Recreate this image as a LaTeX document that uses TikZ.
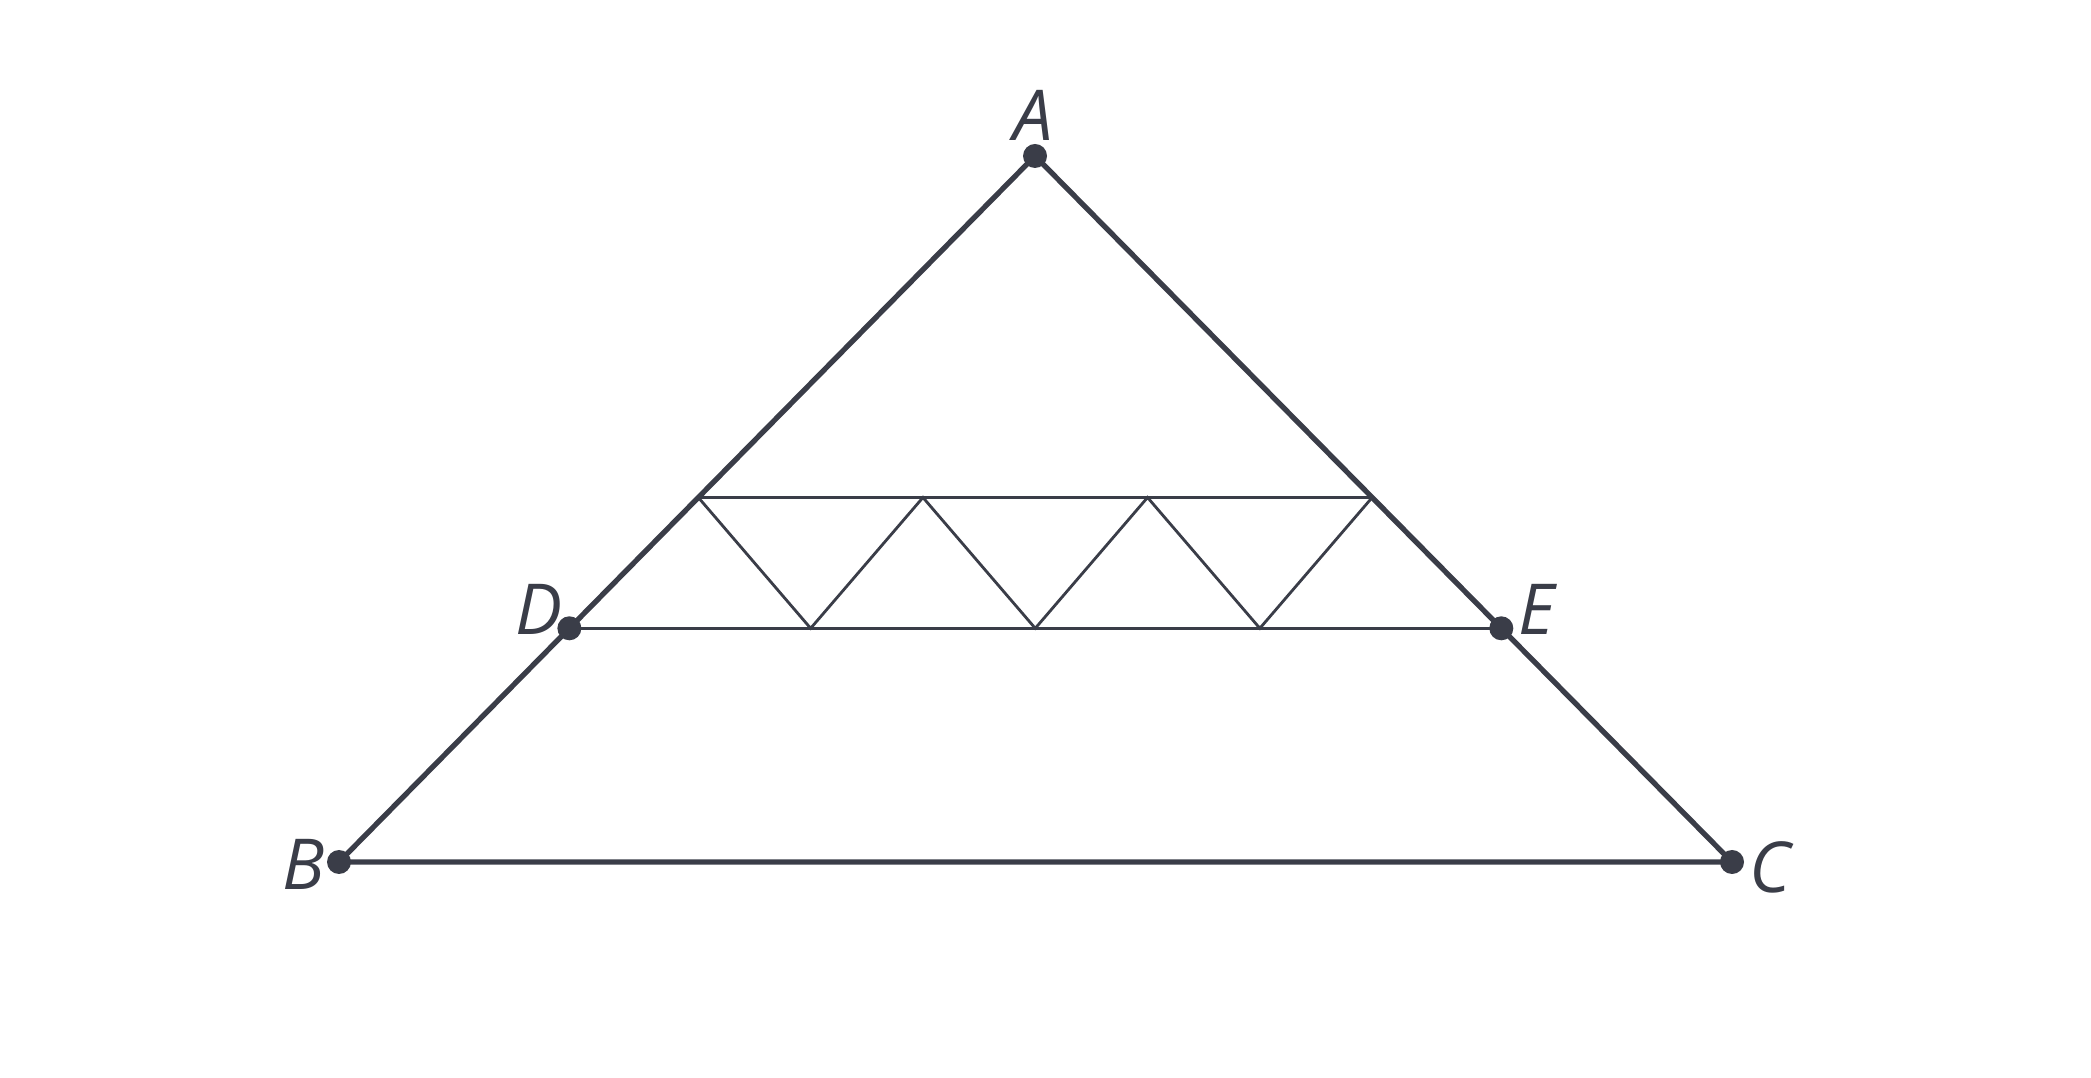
\documentclass[tikz,border=0pt]{standalone}
\usepackage{fontspec}
\setmainfont{Open Sans}
\usepackage{tikz}
\usetikzlibrary{calc}
\definecolor{ink}{RGB}{58,61,72}

\begin{document}
\begin{tikzpicture}
\tikzstyle{every node}+=[inner sep=0pt, text=ink, font=\fontsize{20}{24}\selectfont\itshape]
\tikzstyle{side}=[draw=ink, line width=1.5pt, line cap=round]
\tikzstyle{thin}=[draw=ink, line width=0.8pt, line join=miter]
\useasboundingbox (0,0) rectangle (20.91,10.77);
% vertices
\coordinate (A) at (10.35,9.21);
\coordinate (B) at (3.39,2.15);
\coordinate (C) at (17.32,2.15);
\coordinate (D) at ($(A)!0.669!(B)$);
\coordinate (E) at ($(A)!0.669!(C)$);
% upper segment on AD and AE
\coordinate (P0) at ($(A)!0.723!(D)$);
\coordinate (P3) at ($(A)!0.723!(E)$);
\coordinate (P1) at ($(P0)!1/3!(P3)$);
\coordinate (P2) at ($(P0)!2/3!(P3)$);
% zigzag feet on DE
\coordinate (M1) at ($(P0)!1/6!(P3)$);
\coordinate (M2) at ($(P0)!1/2!(P3)$);
\coordinate (M3) at ($(P0)!5/6!(P3)$);
\coordinate (Q1) at (M1 |- D);
\coordinate (Q2) at (M2 |- D);
\coordinate (Q3) at (M3 |- D);
% inner lines
\draw [thin] (D) -- (E);
\draw [thin] (P0) -- (P3);
\draw [thin] (P0) -- (Q1) -- (P1) -- (Q2) -- (P2) -- (Q3) -- (P3);
% triangle
\draw [side] (A) -- (B) -- (C) -- cycle;
% points
\foreach \p in {A,B,C,D,E}
  \fill [ink] (\p) circle (0.12);
% labels
\node (labA) at (10.33,9.62) {A};
\node (labB) at (3.04,2.13) {B};
\node (labC) at (17.70,2.10) {C};
\node (labD) at (5.39,4.68) {D};
\node (labE) at (15.37,4.68) {E};
\end{tikzpicture}
\end{document}
